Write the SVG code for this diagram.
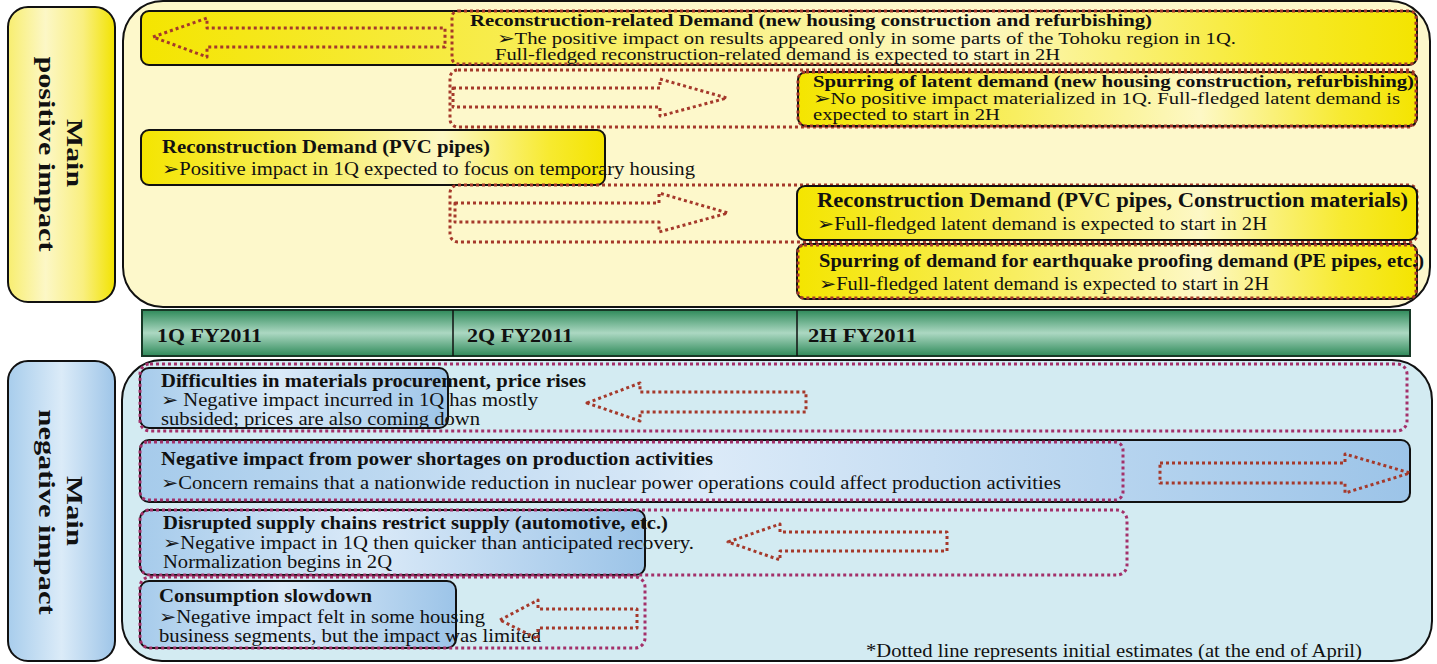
<svg xmlns="http://www.w3.org/2000/svg" width="1437" height="664" viewBox="0 0 1437 664">
<defs>
<linearGradient id="gY" x1="0" y1="0" x2="1" y2="0">
<stop offset="0" stop-color="#f4e500"/><stop offset="0.35" stop-color="#f8ee60"/><stop offset="0.65" stop-color="#fdf8c6"/><stop offset="0.88" stop-color="#f7ea30"/><stop offset="1" stop-color="#f4e400"/>
</linearGradient>
<linearGradient id="gYL" x1="0" y1="0" x2="1" y2="0">
<stop offset="0" stop-color="#f8ee70"/><stop offset="0.35" stop-color="#fcf7c6"/><stop offset="0.7" stop-color="#f9ef80"/><stop offset="1" stop-color="#f2e300"/>
</linearGradient>
<linearGradient id="gB" x1="0" y1="0" x2="1" y2="0">
<stop offset="0" stop-color="#a6cbeb"/><stop offset="0.45" stop-color="#dbeaf8"/><stop offset="1" stop-color="#9cc4e8"/>
</linearGradient>
<linearGradient id="gBL" x1="0" y1="0" x2="1" y2="0">
<stop offset="0" stop-color="#a8cdec"/><stop offset="0.5" stop-color="#dbebf8"/><stop offset="1" stop-color="#9ec5e8"/>
</linearGradient>
<linearGradient id="gG" x1="0" y1="0" x2="0" y2="1">
<stop offset="0" stop-color="#2f8a5a"/><stop offset="0.5" stop-color="#acd8c2"/><stop offset="1" stop-color="#2f8a5a"/>
</linearGradient>
<style>
.h{font-family:"Liberation Serif","DejaVu Serif",serif;font-weight:bold;font-size:18.5px;fill:#111}
.t{font-family:"Liberation Serif","DejaVu Serif",serif;font-size:18px;fill:#111}
.s{font-size:16.5px}
.lab{font-family:"Liberation Serif","DejaVu Serif",serif;font-weight:bold;font-size:23px;fill:#111}
.ybox{fill:url(#gY);stroke:#111;stroke-width:2}
.bbox{fill:url(#gB);stroke:#111;stroke-width:2}
.dotR{fill:none;stroke:#a5392b;stroke-width:3;stroke-dasharray:3 3}
.dotP{fill:none;stroke:#a3306a;stroke-width:3;stroke-dasharray:3 3}
.arr{fill:none;stroke:#a5392b;stroke-width:3;stroke-dasharray:3 3;stroke-linejoin:round}
</style>
</defs>

<g id="positive-label">
<rect x="8" y="7" width="107" height="295" rx="20" fill="url(#gYL)" stroke="#111" stroke-width="2"/>
<text class="lab" transform="translate(67,153) rotate(90)" text-anchor="middle" textLength="68" lengthAdjust="spacingAndGlyphs">Main</text>
<text class="lab" transform="translate(39,154) rotate(90)" text-anchor="middle" textLength="195" lengthAdjust="spacingAndGlyphs">positive impact</text>
</g>

<g id="positive-panel">
<rect x="123" y="1" width="1307" height="306" rx="40" fill="#fdf8cb" stroke="#111" stroke-width="2"/>
</g>

<g id="node-reconstruction-related">
<rect class="ybox" x="141" y="11" width="1276" height="54" rx="8"/>
<rect class="dotR" x="452" y="11" width="964" height="53" rx="6"/>
<text class="h s" x="470" y="26" textLength="682" lengthAdjust="spacingAndGlyphs">Reconstruction-related Demand (new housing construction and refurbishing)</text>
<text class="t s" x="497" y="44" textLength="739" lengthAdjust="spacingAndGlyphs">➢The positive impact on results appeared only in some parts of the Tohoku region in 1Q.</text>
<text class="t s" x="495" y="60" textLength="565" lengthAdjust="spacingAndGlyphs">Full-fledged reconstruction-related demand is expected to start in 2H</text>
</g>

<g id="node-latent-demand">
<rect class="dotR" x="450" y="70" width="966" height="57" rx="8"/>
<rect class="ybox" x="798" y="72" width="619" height="54" rx="8"/>
<rect class="dotR" x="798" y="72" width="618" height="54" rx="8"/>
<text class="h s" x="813" y="87" textLength="601" lengthAdjust="spacingAndGlyphs">Spurring of latent demand (new housing construction, refurbishing)</text>
<text class="t s" x="813" y="104" textLength="587" lengthAdjust="spacingAndGlyphs">➢No positive impact materialized in 1Q. Full-fledged latent demand is</text>
<text class="t s" x="813" y="120" textLength="187" lengthAdjust="spacingAndGlyphs">expected to start in 2H</text>
</g>

<g id="node-pvc-1q">
<rect class="ybox" x="141" y="130" width="464" height="55" rx="8"/>
<text class="h" x="162" y="153" textLength="328" lengthAdjust="spacingAndGlyphs">Reconstruction Demand (PVC pipes)</text>
<text class="t" x="162" y="175" textLength="533" lengthAdjust="spacingAndGlyphs">➢Positive impact in 1Q expected to focus on temporary housing</text>
</g>

<g id="node-pvc-construction">
<rect class="dotR" x="450" y="185" width="967" height="57" rx="8"/>
<rect class="ybox" x="797" y="186" width="620" height="54" rx="8"/>
<text class="h" x="817" y="207" style="font-size:20px" textLength="591" lengthAdjust="spacingAndGlyphs">Reconstruction Demand (PVC pipes, Construction materials)</text>
<text class="t" x="817" y="230" textLength="450" lengthAdjust="spacingAndGlyphs">➢Full-fledged latent demand is expected to start in 2H</text>
</g>

<g id="node-earthquake-proofing">
<rect class="ybox" x="797" y="244" width="620" height="55" rx="8"/>
<rect class="dotR" x="798" y="245" width="618" height="53" rx="6"/>
<text class="h" x="819" y="267" textLength="605" lengthAdjust="spacingAndGlyphs">Spurring of demand for earthquake proofing demand (PE pipes, etc.)</text>
<text class="t" x="819" y="290" textLength="450" lengthAdjust="spacingAndGlyphs">➢Full-fledged latent demand is expected to start in 2H</text>
</g>

<g id="timeline">
<rect x="142" y="310" width="1268" height="46" fill="url(#gG)" stroke="#173826" stroke-width="2"/>
<line x1="453" y1="310" x2="453" y2="356" stroke="#111" stroke-width="1.5"/>
<line x1="797" y1="310" x2="797" y2="356" stroke="#111" stroke-width="1.5"/>
<text class="h" x="157" y="342" textLength="105" lengthAdjust="spacingAndGlyphs">1Q FY2011</text>
<text class="h" x="467" y="342" textLength="106" lengthAdjust="spacingAndGlyphs">2Q FY2011</text>
<text class="h" x="808" y="342" textLength="109" lengthAdjust="spacingAndGlyphs">2H FY2011</text>
</g>

<g id="negative-label">
<rect x="8" y="361" width="107" height="300" rx="20" fill="url(#gBL)" stroke="#111" stroke-width="2"/>
<text class="lab" transform="translate(67,511) rotate(90)" text-anchor="middle" textLength="70" lengthAdjust="spacingAndGlyphs">Main</text>
<text class="lab" transform="translate(39,512) rotate(90)" text-anchor="middle" textLength="205" lengthAdjust="spacingAndGlyphs">negative impact</text>
</g>

<g id="negative-panel">
<rect x="122" y="360" width="1310" height="301" rx="40" fill="#d3ebf2" stroke="#111" stroke-width="2"/>
</g>

<g id="node-materials">
<rect class="bbox" x="140" y="368" width="308" height="60" rx="9"/>
<rect class="dotP" x="140" y="364" width="1267" height="67" rx="10"/>
<text class="h" x="161" y="387" textLength="425" lengthAdjust="spacingAndGlyphs">Difficulties in materials procurement, price rises</text>
<text class="t" x="161" y="406" textLength="377" lengthAdjust="spacingAndGlyphs">➢ Negative impact incurred in 1Q has mostly</text>
<text class="t" x="161" y="425" textLength="319" lengthAdjust="spacingAndGlyphs">subsided; prices are also coming down</text>
</g>

<g id="node-power">
<rect class="bbox" x="140" y="440" width="1270" height="62" rx="9"/>
<rect class="dotP" x="140" y="442" width="983" height="58" rx="8"/>
<text class="h" x="161" y="465" textLength="552" lengthAdjust="spacingAndGlyphs">Negative impact from power shortages on production activities</text>
<text class="t" x="161" y="489" textLength="900" lengthAdjust="spacingAndGlyphs">➢Concern remains that a nationwide reduction in nuclear power operations could affect production activities</text>
</g>

<g id="node-supply">
<rect class="bbox" x="140" y="510" width="505" height="65" rx="9"/>
<rect class="dotP" x="140" y="510" width="987" height="65" rx="10"/>
<text class="h" x="163" y="529" textLength="505" lengthAdjust="spacingAndGlyphs">Disrupted supply chains restrict supply (automotive, etc.)</text>
<text class="t" x="163" y="549" textLength="531" lengthAdjust="spacingAndGlyphs">➢Negative impact in 1Q then quicker than anticipated recovery.</text>
<text class="t" x="163" y="568" textLength="229" lengthAdjust="spacingAndGlyphs">Normalization begins in 2Q</text>
</g>

<g id="node-consumption">
<rect class="bbox" x="140" y="581" width="316" height="67" rx="9"/>
<rect class="dotP" x="140" y="577" width="505" height="71" rx="10"/>
<text class="h" x="159" y="602" textLength="213" lengthAdjust="spacingAndGlyphs">Consumption slowdown</text>
<text class="t" x="159" y="623" textLength="326" lengthAdjust="spacingAndGlyphs">➢Negative impact felt in some housing</text>
<text class="t" x="159" y="642" textLength="382" lengthAdjust="spacingAndGlyphs">business segments, but the impact was limited</text>
</g>

<g id="connectors">
<path class="arr" d="M153,37 L207,18 L207,28 L445,28 L445,47 L207,47 L207,57 Z"/>
<path class="arr" d="M453,88 L660,88 L660,79 L727,98 L660,116 L660,107 L453,107 Z"/>
<path class="arr" d="M455,203 L659,203 L659,193 L728,213 L659,232 L659,222 L455,222 Z"/>
<path class="arr" d="M587,403 L640,383 L640,392 L806,392 L806,412 L640,412 L640,421 Z"/>
<path class="arr" d="M1160,463 L1345,463 L1345,454 L1410,473 L1345,493 L1345,483 L1160,483 Z"/>
<path class="arr" d="M728,542 L780,524 L780,532 L947,532 L947,551 L780,551 L780,560 Z"/>
<path class="arr" d="M500,620 L538,600 L538,609 L637,609 L637,628 L538,628 L538,639 Z"/>
</g>

<g id="footnote">
<text class="t" x="866" y="657" textLength="496" lengthAdjust="spacingAndGlyphs">*Dotted line represents initial estimates (at the end of April)</text>
</g>
</svg>
